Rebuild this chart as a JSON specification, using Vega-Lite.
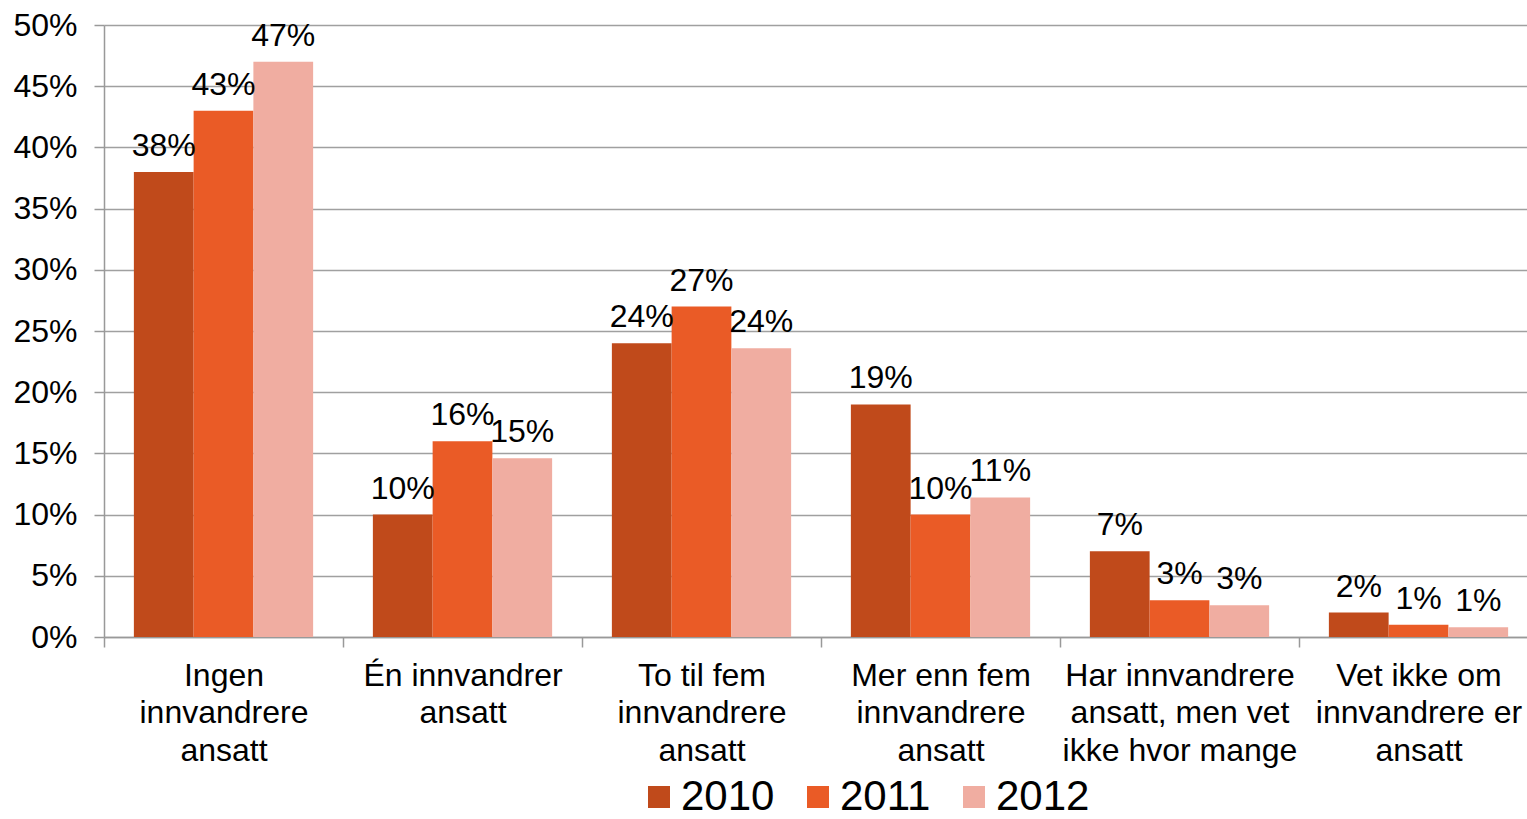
{
  "$schema": "https://vega.github.io/schema/vega-lite/v6.json",
  "width": 1434,
  "height": 612,
  "autosize": {"type": "none"},
  "padding": {"left": 104, "top": 25, "right": -11, "bottom": 182},
  "background": "white",
  "config": {
    "view": {"stroke": null},
    "font": "Liberation Sans",
    "text": {"font": "Liberation Sans"}
  },
  "data": {
    "values": [
      {"kategori": "Ingen innvandrere ansatt", "ar": "2010", "andel": 0.38, "etikett": "38%"},
      {"kategori": "Ingen innvandrere ansatt", "ar": "2011", "andel": 0.43, "etikett": "43%"},
      {"kategori": "Ingen innvandrere ansatt", "ar": "2012", "andel": 0.47, "etikett": "47%"},
      {"kategori": "Én innvandrer ansatt", "ar": "2010", "andel": 0.10, "etikett": "10%"},
      {"kategori": "Én innvandrer ansatt", "ar": "2011", "andel": 0.16, "etikett": "16%"},
      {"kategori": "Én innvandrer ansatt", "ar": "2012", "andel": 0.146, "etikett": "15%"},
      {"kategori": "To til fem innvandrere ansatt", "ar": "2010", "andel": 0.24, "etikett": "24%"},
      {"kategori": "To til fem innvandrere ansatt", "ar": "2011", "andel": 0.27, "etikett": "27%"},
      {"kategori": "To til fem innvandrere ansatt", "ar": "2012", "andel": 0.236, "etikett": "24%"},
      {"kategori": "Mer enn fem innvandrere ansatt", "ar": "2010", "andel": 0.19, "etikett": "19%"},
      {"kategori": "Mer enn fem innvandrere ansatt", "ar": "2011", "andel": 0.10, "etikett": "10%"},
      {"kategori": "Mer enn fem innvandrere ansatt", "ar": "2012", "andel": 0.114, "etikett": "11%"},
      {"kategori": "Har innvandrere ansatt, men vet ikke hvor mange", "ar": "2010", "andel": 0.07, "etikett": "7%"},
      {"kategori": "Har innvandrere ansatt, men vet ikke hvor mange", "ar": "2011", "andel": 0.03, "etikett": "3%"},
      {"kategori": "Har innvandrere ansatt, men vet ikke hvor mange", "ar": "2012", "andel": 0.026, "etikett": "3%"},
      {"kategori": "Vet ikke om innvandrere er ansatt", "ar": "2010", "andel": 0.02, "etikett": "2%"},
      {"kategori": "Vet ikke om innvandrere er ansatt", "ar": "2011", "andel": 0.01, "etikett": "1%"},
      {"kategori": "Vet ikke om innvandrere er ansatt", "ar": "2012", "andel": 0.008, "etikett": "1%"}
    ]
  },
  "encoding": {
    "x": {
      "field": "kategori",
      "type": "nominal",
      "sort": null,
      "scale": {"paddingInner": 0, "paddingOuter": 0},
      "axis": {
        "title": null,
        "labelAngle": 0,
        "labelFont": "Liberation Sans",
        "labelFontSize": 32,
        "labelColor": "#000000",
        "labelLineHeight": 37.5,
        "labelBaseline": "top",
        "labelPadding": 13,
        "labelLimit": 400,
        "tickBand": "extent",
        "tickSize": 10,
        "tickColor": "#999999",
        "domainColor": "#999999",
        "domainWidth": 1.5,
        "tickWidth": 1.5,
        "labelExpr": "{'Ingen innvandrere ansatt': ['Ingen', 'innvandrere', 'ansatt'], 'Én innvandrer ansatt': ['Én innvandrer', 'ansatt'], 'To til fem innvandrere ansatt': ['To til fem', 'innvandrere', 'ansatt'], 'Mer enn fem innvandrere ansatt': ['Mer enn fem', 'innvandrere', 'ansatt'], 'Har innvandrere ansatt, men vet ikke hvor mange': ['Har innvandrere', 'ansatt, men vet', 'ikke hvor mange'], 'Vet ikke om innvandrere er ansatt': ['Vet ikke om', 'innvandrere er', 'ansatt']}[datum.label]"
      }
    },
    "xOffset": {"field": "ar", "type": "nominal", "scale": {"paddingInner": 0, "paddingOuter": 0.5}},
    "y": {
      "field": "andel",
      "type": "quantitative",
      "scale": {"domain": [0, 0.5], "nice": false},
      "axis": {
        "title": null,
        "values": [0, 0.05, 0.1, 0.15, 0.2, 0.25, 0.3, 0.35, 0.4, 0.45, 0.5],
        "format": ".0%",
        "labelFont": "Liberation Sans",
        "labelFontSize": 32,
        "labelColor": "#000000",
        "labelPadding": 17,
        "tickSize": 10,
        "tickColor": "#999999",
        "tickWidth": 1.5,
        "domainColor": "#999999",
        "domainWidth": 1.5,
        "grid": true,
        "gridColor": "#a0a0a0",
        "gridWidth": 1.5
      }
    }
  },
  "layer": [
    {
      "mark": {"type": "bar"},
      "encoding": {
        "color": {
          "field": "ar",
          "type": "nominal",
          "scale": {"domain": ["2010", "2011", "2012"], "range": ["#C04A1B", "#EA5B26", "#F0ADA1"]},
          "legend": {
            "title": null,
            "orient": "none",
            "direction": "horizontal",
            "legendX": 534,
            "legendY": 751,
            "symbolType": "square",
            "symbolSize": 484,
            "symbolStrokeWidth": 0,
            "labelFont": "Liberation Sans",
            "labelFontSize": 42,
            "labelColor": "#000000",
            "labelOffset": 1,
            "columnPadding": 22,
            "padding": 0
          }
        }
      }
    },
    {
      "mark": {"type": "text", "baseline": "alphabetic", "dy": -16, "fontSize": 32, "font": "Liberation Sans", "color": "#000000"},
      "encoding": {
        "text": {"field": "etikett", "type": "nominal"}
      }
    }
  ]
}
